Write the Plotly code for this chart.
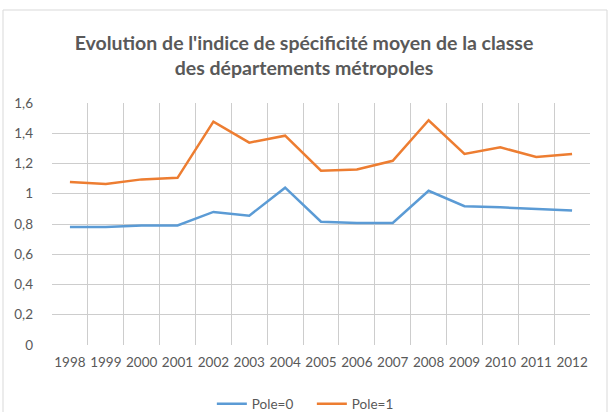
import plotly.graph_objects as go

years = list(range(1998, 2013))
pole0 = [0.78, 0.78, 0.79, 0.79, 0.88, 0.855, 1.04, 0.815, 0.807, 0.807, 1.02, 0.918, 0.91, 0.90, 0.89]
pole1 = [1.077, 1.065, 1.095, 1.105, 1.477, 1.338, 1.384, 1.152, 1.161, 1.218, 1.486, 1.263, 1.307, 1.243, 1.263]
y_ticks = [0, 0.2, 0.4, 0.6, 0.8, 1.0, 1.2, 1.4, 1.6]
y_labels = ["0", "0,2", "0,4", "0,6", "0,8", "1", "1,2", "1,4", "1,6"]

fig = go.Figure()
fig.add_trace(go.Scatter(x=years, y=pole0, name="Pole=0", mode="lines",
                         line=dict(color="#5B9BD5", width=2.5)))
fig.add_trace(go.Scatter(x=years, y=pole1, name="Pole=1", mode="lines",
                         line=dict(color="#ED7D31", width=2.5)))

# light frame around the chart
fig.add_shape(type="rect", xref="paper", yref="paper",
              x0=-49 / 538, x1=555 / 538, y0=-0.5, y1=(345 - 10) / 242,
              line=dict(color="#d9d9d9", width=1), layer="below")

grid = "#cdcdcd"
fig.update_layout(
    width=608, height=412,
    margin=dict(l=52, r=18, t=103, b=67, autoexpand=False),
    paper_bgcolor="white", plot_bgcolor="white",
    font=dict(family="Lato, Open Sans, sans-serif", color="#595959", size=13.5),
    title=dict(text="Evolution de l'indice de spécificité moyen de la classe<br>des départements métropoles",
               x=0.5, xanchor="center", y=0.879, yanchor="middle",
               font=dict(family="Lato, Open Sans, sans-serif", size=19.5, color="#595959", weight="bold")),
    showlegend=True,
    legend=dict(orientation="h", x=0.483, xanchor="center", yref="container", y=8 / 412, yanchor="middle",
                entrywidth=55, entrywidthmode="pixels",
                font=dict(size=13.5, color="#595959")),
    xaxis=dict(range=[1997.5, 2012.5], tickvals=years, ticktext=[str(y) for y in years],
               showgrid=False, zeroline=False, showline=False, ticks="", ticklabelstandoff=7,
               minor=dict(tick0=1997.5, dtick=1, showgrid=True, gridcolor=grid, gridwidth=1),
               fixedrange=True),
    yaxis=dict(range=[0, 1.6], tickvals=y_ticks, ticktext=y_labels,
               showgrid=True, gridcolor=grid, gridwidth=1, zeroline=False,
               showline=False, ticks="", ticklabelstandoff=18),
)

fig.write_html("out.html", config={"displayModeBar": False},
               post_script="document.body.style.margin='0';")
